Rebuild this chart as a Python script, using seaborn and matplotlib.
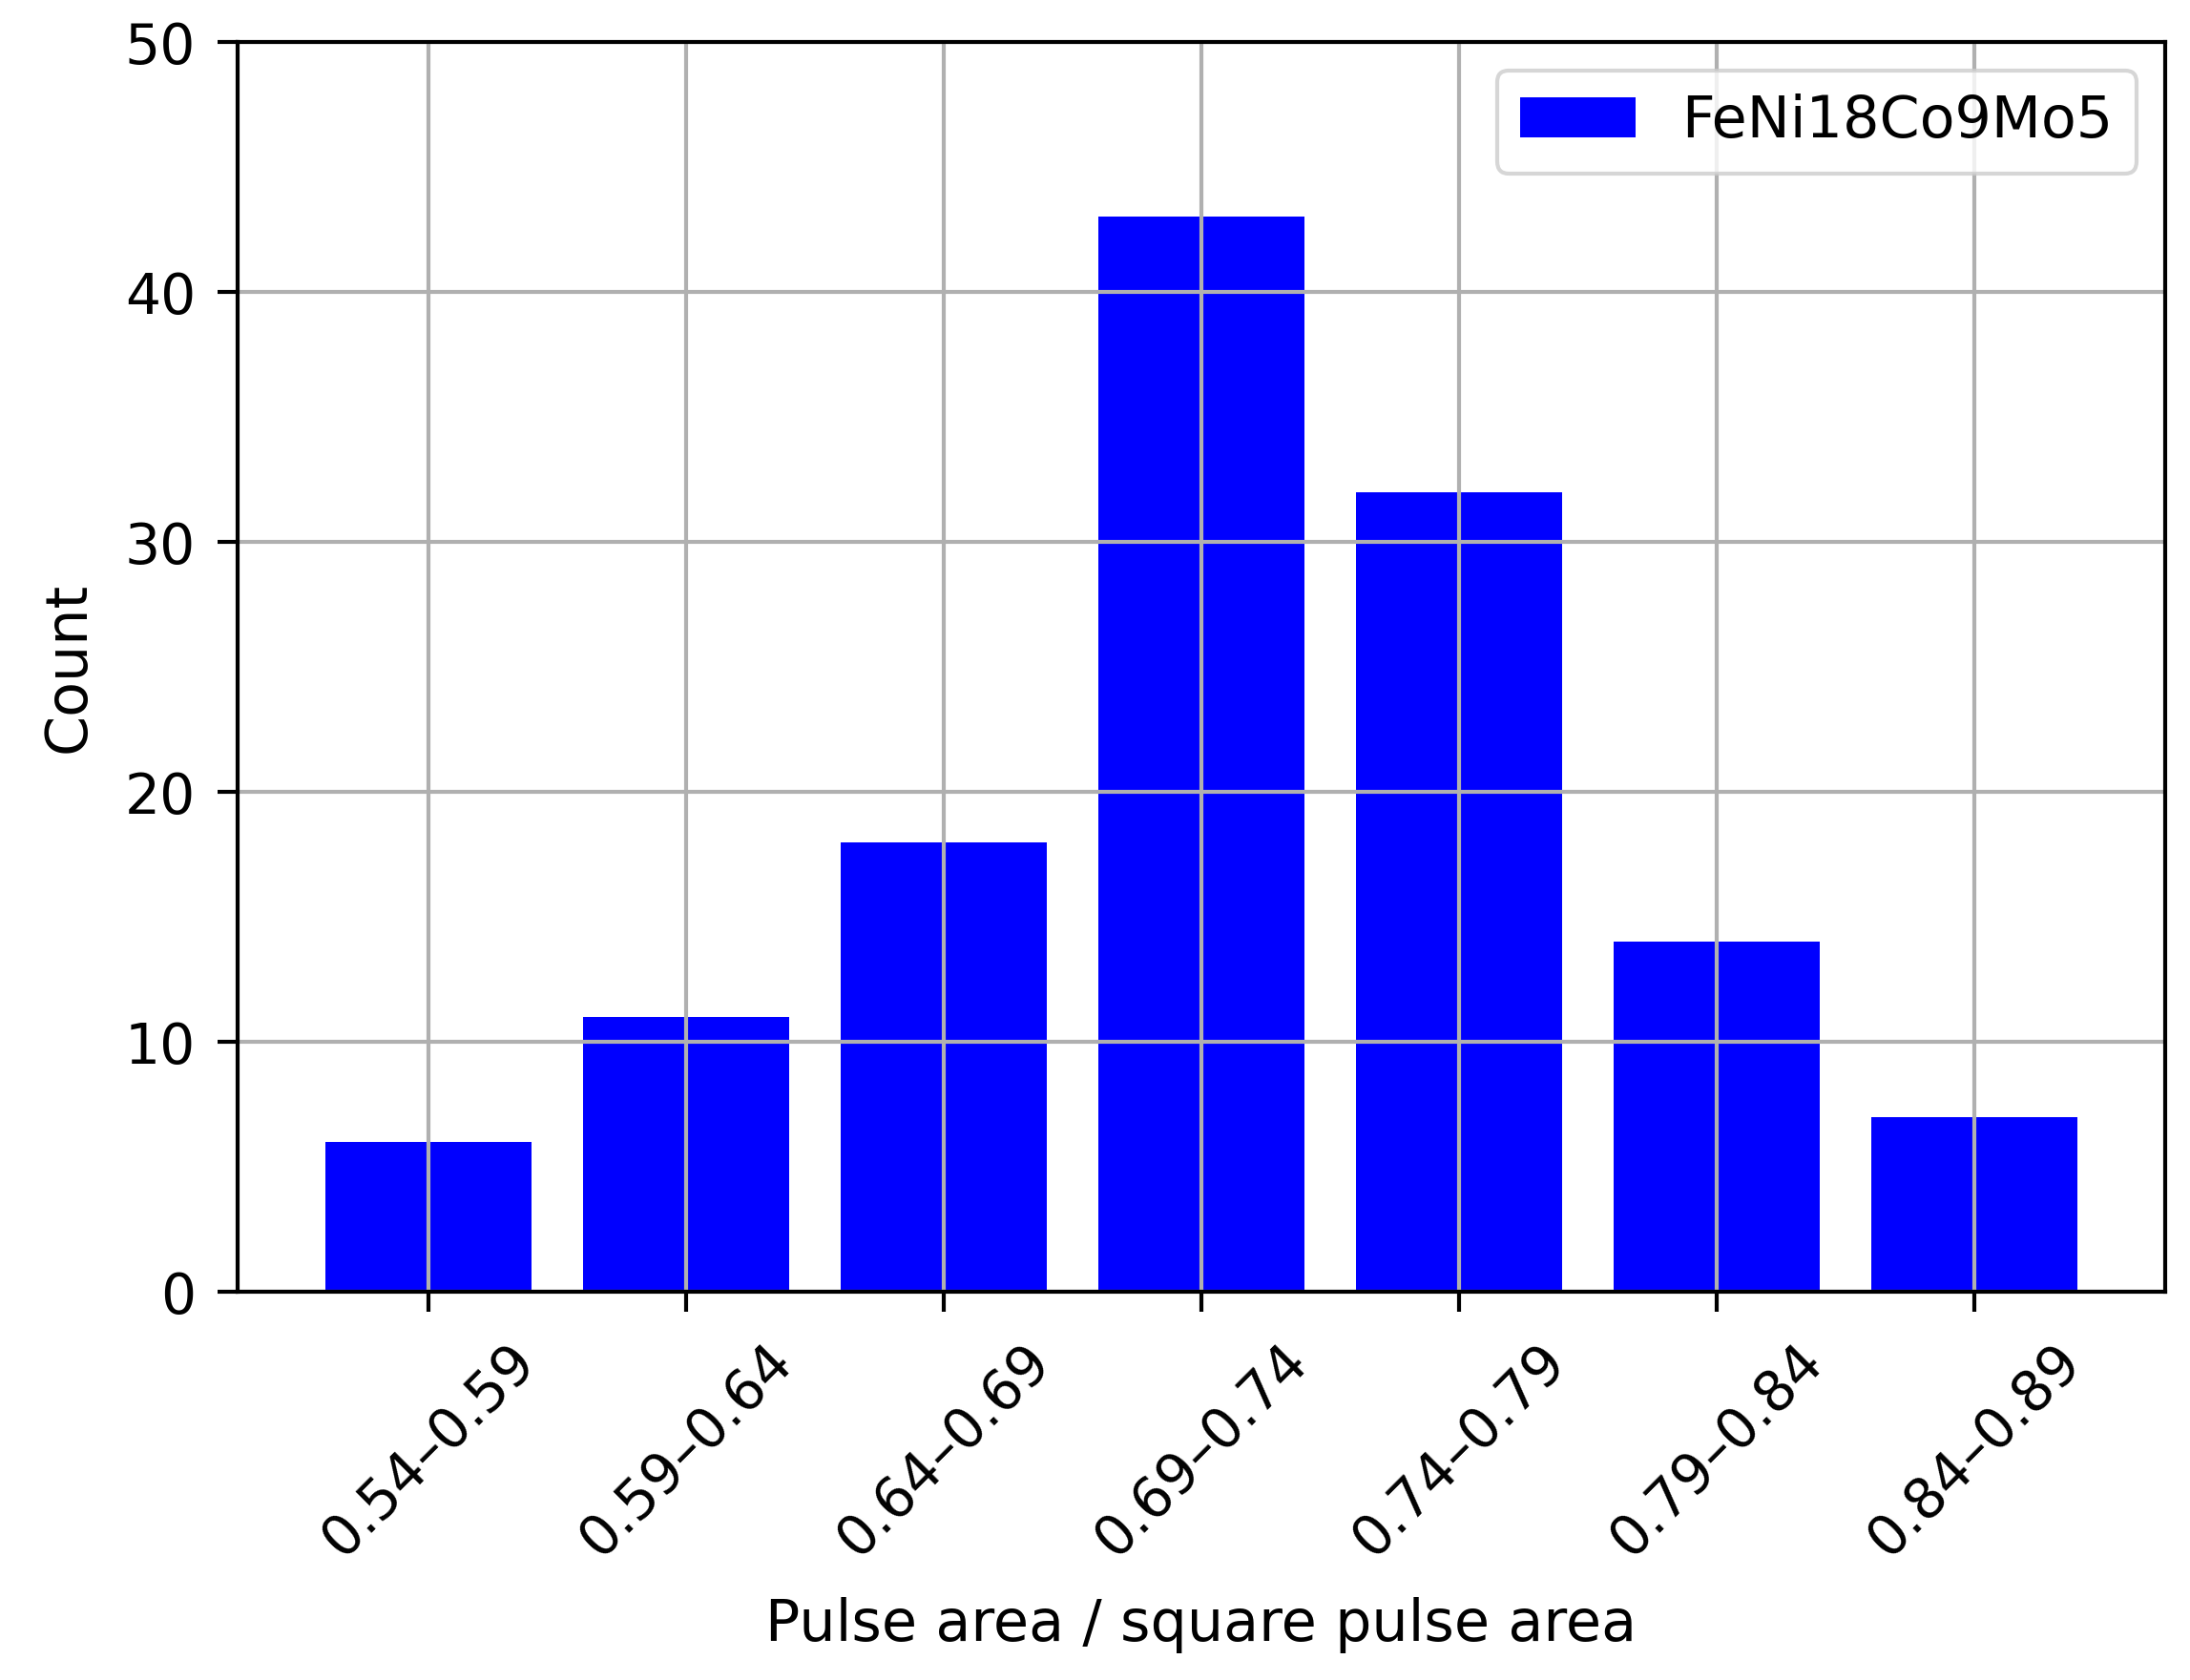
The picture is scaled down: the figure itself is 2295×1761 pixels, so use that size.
import matplotlib
matplotlib.use("Agg")
import matplotlib.pyplot as plt
import pandas as pd
import seaborn as sns

# bins and counts
bins = ["0.54–0.59", "0.59–0.64", "0.64–0.69", "0.69–0.74",
        "0.74–0.79", "0.79–0.84", "0.84–0.89"]
counts = [6, 11, 18, 43, 32, 14, 7]
alloy = "FeNi18Co9Mo5"

df = pd.DataFrame({"bin": bins, "count": counts})

plt.rcParams["font.size"] = 14
plt.rcParams["axes.linewidth"] = 1.0
plt.rcParams["xtick.major.size"] = 5
plt.rcParams["ytick.major.size"] = 5
plt.rcParams["xtick.major.width"] = 1.0
plt.rcParams["ytick.major.width"] = 1.0
plt.rcParams["xtick.major.pad"] = 5.5
plt.rcParams["ytick.major.pad"] = 5.5
plt.rcParams["grid.linewidth"] = 1.0

fig = plt.figure(figsize=(7.65, 5.87), dpi=300)
ax = fig.add_axes([0.1085, 0.231, 0.8802, 0.744])

sns.barplot(data=df, x="bin", y="count", color="blue", saturation=1,
            width=0.8, label=alloy, ax=ax)

# seaborn clamps the categorical axis and turns its grid off; undo that
ax.set_xlim(-0.74, len(bins) - 1 + 0.74)
ax.set_ylim(0, 50)
ax.grid(True)
ax.set_axisbelow("line")

ax.set_xlabel("Pulse area / square pulse area", fontsize=14.5, labelpad=7.5)
ax.set_ylabel("Count", fontsize=14.5, labelpad=7)
plt.xticks(rotation=45)

ax.legend(loc="upper right", fontsize=14.5)

fig.savefig("out.png", dpi=300)
